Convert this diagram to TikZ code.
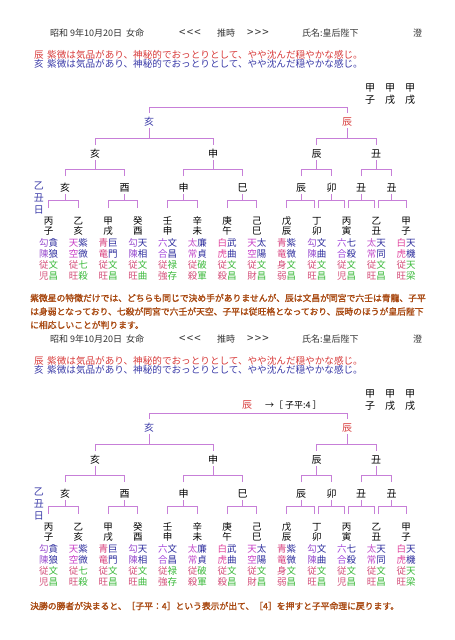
\documentclass[tikz,border=0pt]{standalone}
\usepackage{fontspec}
\setmainfont{Noto Sans CJK JP}
\newfontfamily\hdfont{Noto Sans CJK JP}
\newfontfamily\parafont[FakeBold=1.6]{Noto Sans CJK JP}
\definecolor{treeln}{HTML}{C77FD8}
\definecolor{hdr}{HTML}{333333}
\definecolor{redt}{HTML}{D83A3A}
\definecolor{bluet}{HTML}{3A3AA8}
\definecolor{para}{HTML}{A84810}
\definecolor{kou}{HTML}{9A4FD0}
\definecolor{ten}{HTML}{C840C8}
\definecolor{sei}{HTML}{D8407E}
\definecolor{rik}{HTML}{A448DC}
\definecolor{tai}{HTML}{C450CC}
\definecolor{hak}{HTML}{E0449E}
\definecolor{star}{HTML}{2E2E9E}
\definecolor{rose}{HTML}{D4507A}
\definecolor{grn}{HTML}{3CBA3C}
\newcommand\cKou{\color{kou}}
\newcommand\cTen{\color{ten}}
\newcommand\cSei{\color{sei}}
\newcommand\cRik{\color{rik}}
\newcommand\cTai{\color{tai}}
\newcommand\cHak{\color{hak}}
\newcommand\cStar{\color{star}}
\newcommand\cRose{\color{rose}}
\newcommand\cGrn{\color{grn}}
\tikzset{
  br/.style={draw=treeln,line width=0.9pt},
  tl/.style={inner sep=0pt,font=\fontsize{10}{10}\selectfont},
  lf/.style={inner sep=0pt,font=\fontsize{9.5}{9.5}\selectfont},
  hd/.style={inner sep=0pt,anchor=west,font=\hdfont\fontsize{9}{9}\selectfont,text=hdr},
  ar/.style={inner sep=0pt,anchor=west,font=\hdfont\fontsize{11.5}{11.5}\selectfont,text=hdr},
  ln/.style={inner sep=0pt,anchor=west,font=\fontsize{9.6}{9.6}\selectfont},
  pa/.style={inner sep=0pt,anchor=west,font=\parafont\fontsize{8.8}{8.8}\selectfont,text=para},
}
% bracket: parent, child1, child2, y stub start, y bar, y drop end
\newcommand\bracket[6]{%
  \draw[br] (#1 |- 0,#4) -- (#1 |- 0,#5);
  \draw[br] (#2 |- 0,#6) -- (#2 |- 0,#5) -- (#3 |- 0,#5) -- (#3 |- 0,#6);}
% leaf: name, x, stem, branch, row1, row2, row3, row4
\newcommand\leaf[8]{%
  \node[lf] (#1) at (#2,221) {#3};
  \node[lf] (#1b) at (#2,231) {#4};
  \node[lf] (#1s) at (#2,243) {#5};
  \node[lf] (#1t) at (#2,254) {#6};
  \node[lf] (#1u) at (#2,265) {#7};
  \node[lf] (#1v) at (#2,276) {#8};
  \coordinate (#1L) at ([xshift=-2pt]#1.center);
  \coordinate (#1R) at ([xshift=2pt]#1.center);}
\newcommand\drawpanel[1]{%
  \node[hd] (#1h1) at (50,33) {昭和 9年10月20日\hspace{4pt}女命};
  \node[ar] (#1h2) at (179,33) {<\hspace{1.2pt}<\hspace{1.2pt}<};
  \node[hd] (#1h3) at (217,33) {推時};
  \node[ar] (#1h4) at (247,33) {>\hspace{1.2pt}>\hspace{1.2pt}>};
  \node[hd] (#1h5) at (302,33) {氏名:皇后陛下};
  \node[hd] (#1h6) at (413,33) {澄};
  \node[ln,text=redt] (#1r) at (34,55) {辰};
  \node[ln,text=redt] (#1rt) at (47,55) {紫微は気品があり、神秘的でおっとりとして、やや沈んだ穏やかな感じ。};
  \node[ln,text=bluet] (#1b) at (34,64) {亥};
  \node[ln,text=bluet] (#1bt) at (47,64) {紫微は気品があり、神秘的でおっとりとして、やや沈んだ穏やかな感じ。};
  \node[tl] (#1k1) at (370,88) {甲};
  \node[tl] (#1k2) at (390,88) {甲};
  \node[tl] (#1k3) at (410,88) {甲};
  \node[tl] (#1z1) at (370,100) {子};
  \node[tl] (#1z2) at (390,100) {戌};
  \node[tl] (#1z3) at (410,100) {戌};
  % tree
  \node[tl,text=bluet] (#1T1) at (149,122) {亥};
  \node[tl,text=redt] (#1T2) at (347,122) {辰};
  \draw[br] (#1T1 |- 0,113) -- (#1T1 |- 0,107) -- (#1T2 |- 0,107) -- (#1T2 |- 0,113);
  \node[tl] (#1A) at (95,154) {亥};
  \node[tl] (#1B) at (213,154) {申};
  \node[tl] (#1C) at (316.5,154) {辰};
  \node[tl] (#1D) at (376,154) {丑};
  \bracket{#1T1}{#1A}{#1B}{128}{138}{145}
  \bracket{#1T2}{#1C}{#1D}{128}{138}{145}
  \node[tl] (#1a1) at (65,188) {亥};
  \node[tl] (#1a2) at (124.5,188) {酉};
  \node[tl] (#1b1) at (183.5,188) {申};
  \node[tl] (#1b2) at (242.5,188) {巳};
  \node[tl] (#1c1) at (301,188) {辰};
  \node[tl] (#1c2) at (331.5,188) {卯};
  \node[tl] (#1d1) at (361,188) {丑};
  \node[tl] (#1d2) at (391.5,188) {丑};
  \bracket{#1A}{#1a1}{#1a2}{160}{169}{176}
  \bracket{#1B}{#1b1}{#1b2}{160}{169}{176}
  \bracket{#1C}{#1c1}{#1c2}{160}{169}{176}
  \bracket{#1D}{#1d1}{#1d2}{160}{169}{176}
  \node[tl,text=bluet] (#1v1) at (39,186) {乙};
  \node[tl,text=bluet] (#1v2) at (39,198) {丑};
  \node[tl,text=bluet] (#1v3) at (39,210) {日};
  \leaf{#1l1}{48.5}{丙}{子}{\cKou 勾\cStar 貪}{\cKou 陳\cStar 狼}{\cRose 従\cGrn 文}{\cRose 児\cGrn 昌}
  \leaf{#1l2}{78.25}{乙}{亥}{\cTen 天\cStar 紫}{\cTen 空\cStar 微}{\cRose 従\cGrn 七}{\cRose 旺\cGrn 殺}
  \leaf{#1l3}{108}{甲}{戌}{\cSei 青\cStar 巨}{\cSei 竜\cStar 門}{\cRose 従\cGrn 文}{\cRose 旺\cGrn 昌}
  \leaf{#1l4}{137.75}{癸}{酉}{\cKou 勾\cStar 天}{\cKou 陳\cStar 相}{\cRose 従\cGrn 文}{\cRose 旺\cGrn 曲}
  \leaf{#1l5}{167.5}{壬}{申}{\cRik 六\cStar 文}{\cRik 合\cStar 昌}{\cRose 従\cGrn 禄}{\cRose 強\cGrn 存}
  \leaf{#1l6}{197.25}{辛}{未}{\cTai 太\cStar 廉}{\cTai 常\cStar 貞}{\cRose 従\cGrn 破}{\cRose 殺\cGrn 軍}
  \leaf{#1l7}{227}{庚}{午}{\cHak 白\cStar 武}{\cHak 虎\cStar 曲}{\cRose 従\cGrn 文}{\cRose 殺\cGrn 昌}
  \leaf{#1l8}{256.75}{己}{巳}{\cTen 天\cStar 太}{\cTen 空\cStar 陽}{\cRose 従\cGrn 文}{\cRose 財\cGrn 昌}
  \leaf{#1l9}{286.5}{戊}{辰}{\cSei 青\cStar 紫}{\cSei 竜\cStar 微}{\cRose 身\cGrn 文}{\cRose 弱\cGrn 昌}
  \leaf{#1l10}{316.75}{丁}{卯}{\cKou 勾\cStar 文}{\cKou 陳\cStar 曲}{\cRose 従\cGrn 文}{\cRose 旺\cGrn 昌}
  \leaf{#1l11}{346.5}{丙}{寅}{\cRik 六\cStar 七}{\cRik 合\cStar 殺}{\cRose 従\cGrn 文}{\cRose 児\cGrn 昌}
  \leaf{#1l12}{376.25}{乙}{丑}{\cTai 太\cStar 天}{\cTai 常\cStar 同}{\cRose 従\cGrn 文}{\cRose 旺\cGrn 昌}
  \leaf{#1l13}{406}{甲}{子}{\cHak 白\cStar 天}{\cHak 虎\cStar 機}{\cRose 従\cGrn 天}{\cRose 旺\cGrn 梁}
  \bracket{#1a1}{#1l1}{#1l2}{194}{200}{208}
  \bracket{#1a2}{#1l3}{#1l4}{194}{200}{208}
  \bracket{#1b1}{#1l5}{#1l6}{194}{200}{208}
  \bracket{#1b2}{#1l7}{#1l8}{194}{200}{208}
  \bracket{#1c1}{#1l9}{#1l10L}{194}{200}{208}
  \bracket{#1c2}{#1l10R}{#1l11L}{194}{200}{208}
  \bracket{#1d1}{#1l11R}{#1l12L}{194}{200}{208}
  \bracket{#1d2}{#1l12R}{#1l13}{194}{200}{208}
}
\begin{document}
\begin{tikzpicture}[x=1pt,y=-1pt]
  \fill[white] (0,0) rectangle (455,640);
  \useasboundingbox (0,0) rectangle (455,640);
  \begin{scope}
    \drawpanel{p}
  \end{scope}
  \node[pa] (para1) at (30,298) {紫微星の特徴だけでは、どちらも同じで決め手がありませんが、辰は文昌が同宮で六壬は青龍、子平};
  \node[pa] (para2) at (30,311.5) {は身弱となっており、七殺が同宮で六壬が天空、子平は従旺格となっており、辰時のほうが皇后陛下};
  \node[pa] (para3) at (30,325) {に相応しいことが判ります。};
  \begin{scope}[shift={(0,306)}]
    \drawpanel{q}
    \node[tl,text=redt] (qsel) at (247,99) {辰};
    \node[hd,text=black] (qres) at (265,99) {→［ 子平:4 ］};
  \end{scope}
  \node[pa] (para4) at (30,606) {決勝の勝者が決まると、［子平：4］という表示が出て、［4］を押すと子平命理に戻ります。};
\end{tikzpicture}
\end{document}
